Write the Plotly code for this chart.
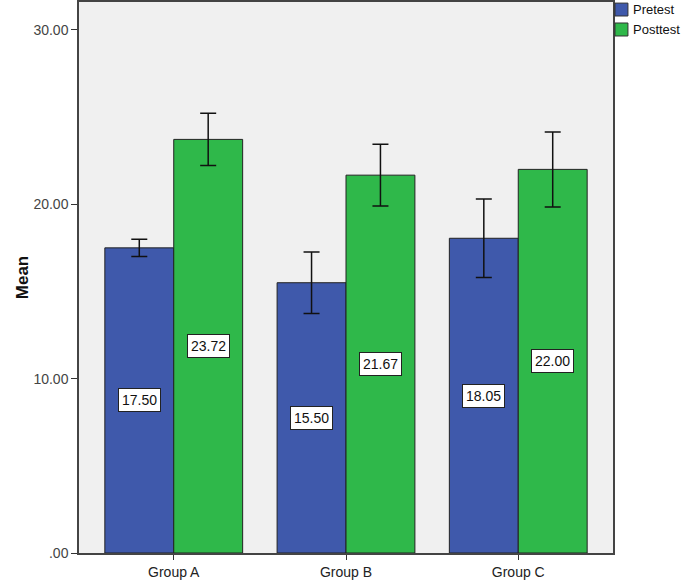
import plotly.graph_objects as go

groups = ["Group A", "Group B", "Group C"]
series_names = ["Pretest", "Posttest"]
series_colors = ["#3F59AB", "#2FB84A"]
pretest = [17.50, 15.50, 18.05]
posttest = [23.72, 21.67, 22.00]
pretest_err = [0.5, 1.76, 2.25]
posttest_err = [1.5, 1.77, 2.15]
tick_vals = [0, 10, 20, 30]
tick_text = [".00", "10.00", "20.00", "30.00"]

x_idx = list(range(len(groups)))
font = "Liberation Sans, Arial, sans-serif"

fig = go.Figure()
for name, color, vals, errs in ((series_names[0], series_colors[0], pretest, pretest_err),
                                (series_names[1], series_colors[1], posttest, posttest_err)):
    fig.add_trace(go.Bar(
        name=name, x=x_idx, y=vals,
        marker=dict(color=color, line=dict(color="#222222", width=1)),
        error_y=dict(type="data", array=errs, color="#111111", thickness=1.5, width=8),
        showlegend=False,
    ))

offset = 0.2
for i in x_idx:
    for val, dx in ((pretest[i], -offset), (posttest[i], offset)):
        fig.add_annotation(
            x=i + dx, y=val / 2, xref="x", yref="y",
            text=f"{val:.2f}", showarrow=False,
            font=dict(family=font, size=14, color="#111111"),
            bgcolor="white", bordercolor="#222222", borderwidth=1, borderpad=3,
        )

# legend (drawn in paper coordinates, outside the plot area on the right)
leg_x0, leg_x1, leg_tx = 1.0037, 1.028, 1.0335
leg_rows = [(0.998, 0.9746, 0.9855), (0.9619, 0.9383, 0.950)]
for (y0, y1, ty), name, color in zip(leg_rows, series_names, series_colors):
    fig.add_shape(type="rect", xref="paper", yref="paper",
                  x0=leg_x0, x1=leg_x1, y0=y0, y1=y1,
                  fillcolor=color, line=dict(color="#333333", width=1))
    fig.add_annotation(xref="paper", yref="paper", x=leg_tx, y=ty,
                       xanchor="left", yanchor="middle", showarrow=False,
                       text=name, font=dict(family=font, size=13, color="#111111"))

fig.update_layout(
    width=685, height=584,
    margin=dict(l=79, r=72, t=2, b=31, autoexpand=False),
    paper_bgcolor="white", plot_bgcolor="#F0F0F0",
    barmode="group", bargap=0.2, bargroupgap=0,
    font=dict(family=font, size=13, color="#333333"),
    showlegend=False,
)
fig.update_xaxes(
    range=[-0.55, 2.55], tickvals=x_idx, ticktext=groups,
    ticks="outside", ticklen=5, tickcolor="#333333",
    showline=True, linecolor="#444444", linewidth=1.5, mirror=True,
    showgrid=False, zeroline=False, automargin=False,
    tickfont=dict(family=font, size=14, color="#222222"),
)
fig.update_yaxes(
    range=[0, 31.6], tickvals=tick_vals, ticktext=tick_text,
    ticks="outside", ticklen=6, tickcolor="#333333",
    showline=True, linecolor="#444444", linewidth=1.5, mirror=True,
    showgrid=False, zeroline=False, automargin=False,
    title=dict(text="<b>Mean</b>", font=dict(family=font, size=17, color="#111111"), standoff=0),
    tickfont=dict(family=font, size=14, color="#444444"),
)

fig.write_html("out.html", config={"displayModeBar": False},
               post_script="document.body.style.margin='0';")
